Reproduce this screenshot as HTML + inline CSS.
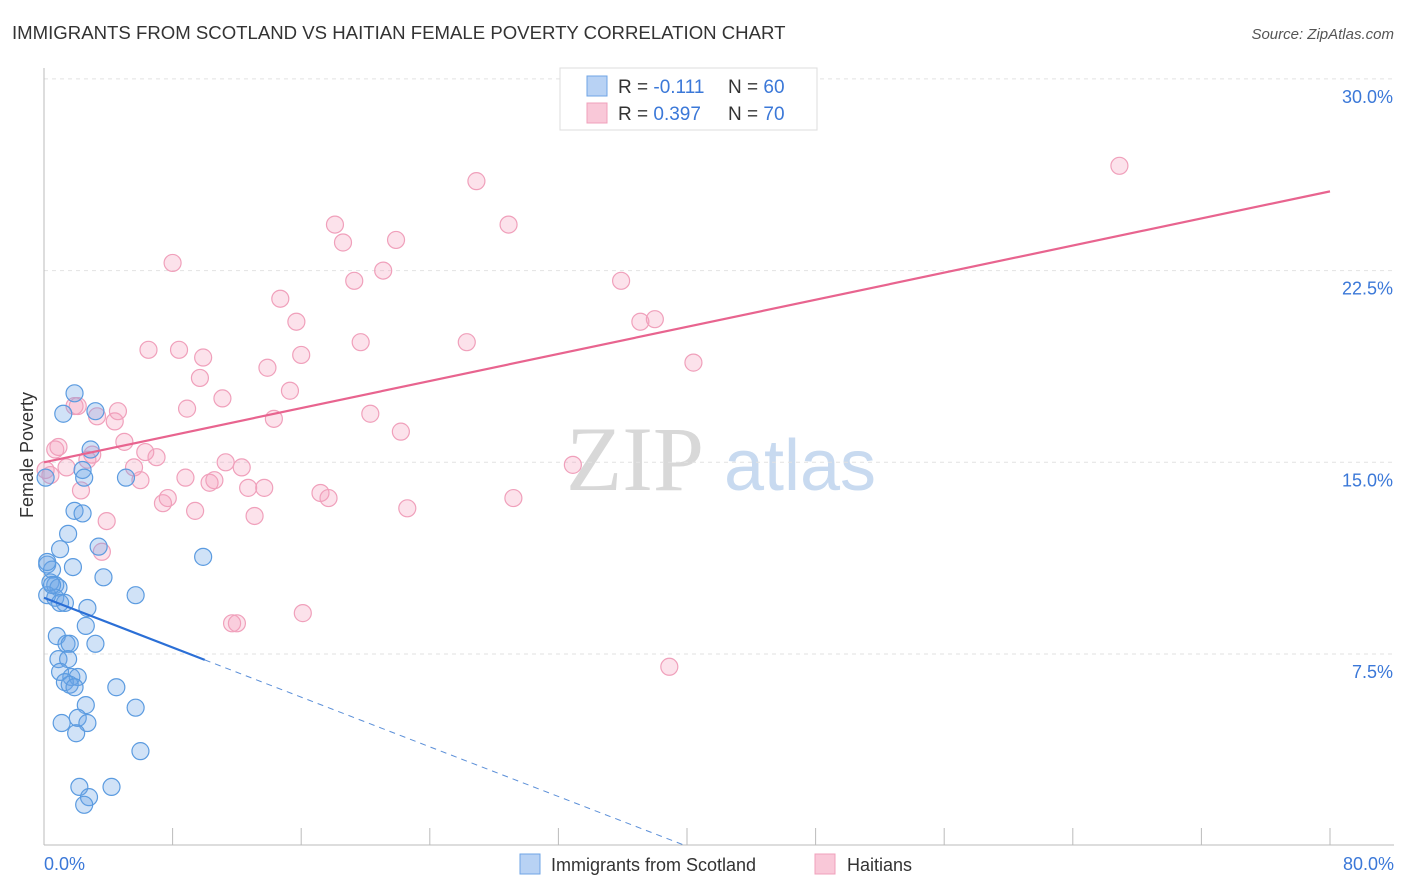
<!DOCTYPE html>
<html><head><meta charset="utf-8"><style>
body{margin:0;background:#fff;font-family:"Liberation Sans",sans-serif}
svg{display:block}
</style></head><body>
<svg id="chart" width="1406" height="892" xmlns="http://www.w3.org/2000/svg">
<text x="12" y="39" font-size="18.6" fill="#333">IMMIGRANTS FROM SCOTLAND VS HAITIAN FEMALE POVERTY CORRELATION CHART</text>
<text x="1394" y="39" font-size="15" fill="#555" font-style="italic" text-anchor="end">Source: ZipAtlas.com</text>
<text x="33" y="455" font-size="18" fill="#333" text-anchor="middle" transform="rotate(-90 33 455)">Female Poverty</text>
<g><text x="635" y="490" font-size="92" fill="#d8d8d8" font-family="Liberation Serif,serif" text-anchor="middle">ZIP</text><text x="800" y="490" font-size="72" fill="#c8daf0" text-anchor="middle">atlas</text></g>
<g id="grid"></g><g id="axes"></g><g id="marks"></g>
<g>
<rect x="560" y="68" width="257" height="62" fill="#fff" stroke="#ddd"/>
<rect x="587" y="76" width="20" height="20" fill="#b8d2f4" stroke="#6fa4e6"/>
<rect x="587" y="103" width="20" height="20" fill="#f9c8d8" stroke="#f0a0bb"/>
<text x="618" y="93" font-size="19" fill="#333">R = <tspan fill="#3b78d8">-0.111</tspan></text>
<text x="728" y="93" font-size="19" fill="#333">N = <tspan fill="#3b78d8">60</tspan></text>
<text x="618" y="120" font-size="19" fill="#333">R = <tspan fill="#3b78d8">0.397</tspan></text>
<text x="728" y="120" font-size="19" fill="#333">N = <tspan fill="#3b78d8">70</tspan></text>
</g>
<g>
<rect x="520" y="854" width="20" height="20" fill="#b8d2f4" stroke="#6fa4e6"/>
<text x="551" y="871" font-size="18" fill="#333">Immigrants from Scotland</text>
<rect x="815" y="854" width="20" height="20" fill="#f9c8d8" stroke="#f0a0bb"/>
<text x="847" y="871" font-size="18" fill="#333">Haitians</text>
</g>
</svg>
<script>
const yTicks=[7.5,15,22.5,30];
const yTickLabels=["7.5%","15.0%","22.5%","30.0%"];
const xTickCount=10;
const blueX=[0.1,1.9,1.2,3.2,2.9,2.4,2.5,5.1,1.9,2.4,1.5,3.4,1.0,9.9,1.8,0.2,0.5,3.7,0.4,0.7,0.9,0.2,0.7,1.3,1.0,5.7,2.7,2.6,0.8,1.4,3.2,1.6,0.9,1.5,1.0,1.7,2.1,1.3,1.6,1.9,4.5,2.6,5.7,1.1,2.1,2.7,2.0,6.0,2.2,4.2,2.8,2.5,0.2,0.5];
const blueY=[14.4,17.7,16.9,17.0,15.5,14.7,14.4,14.4,13.1,13.0,12.2,11.7,11.6,11.3,10.9,11.0,10.8,10.5,10.3,10.2,10.1,9.8,9.7,9.5,9.5,9.8,9.3,8.6,8.2,7.9,7.9,7.9,7.3,7.3,6.8,6.6,6.6,6.4,6.3,6.2,6.2,5.5,5.4,4.8,5.0,4.8,4.4,3.7,2.3,2.3,1.9,1.6,11.1,10.2];
const pinkX=[0.1,0.7,0.9,1.4,0.4,1.9,2.1,2.3,2.7,3.0,3.3,3.9,3.6,4.4,4.6,5.0,5.6,6.0,6.3,7.0,6.5,7.4,7.7,8.0,8.4,8.8,8.9,9.4,9.7,9.9,10.3,10.6,11.1,11.3,11.7,12.0,12.3,12.7,13.1,13.7,13.9,14.3,14.7,15.3,15.7,16.0,16.1,17.2,17.7,18.1,18.6,19.3,19.7,20.3,21.1,21.9,22.2,22.6,26.3,26.9,28.9,29.2,32.9,35.9,37.1,38.0,38.9,40.4,66.9];
const pinkY=[14.7,15.5,15.6,14.8,14.5,17.2,17.2,13.9,15.1,15.3,16.8,12.7,11.5,16.6,17.0,15.8,14.8,14.3,15.4,15.2,19.4,13.4,13.6,22.8,19.4,14.4,17.1,13.1,18.3,19.1,14.2,14.3,17.5,15.0,8.7,8.7,14.8,14.0,12.9,14.0,18.7,16.7,21.4,17.8,20.5,19.2,9.1,13.8,13.6,24.3,23.6,22.1,19.7,16.9,22.5,23.7,16.2,13.2,19.7,26.0,24.3,13.6,14.9,22.1,20.5,20.6,7.0,18.9,26.6];
const blueTrend=[9.7,-0.243];
const pinkTrend=[15.0,0.1325];
const NS="http://www.w3.org/2000/svg";
const xs=v=>44+v*16.075, ys=v=>845.7-v*25.56;
function mk(t,a,p){const e=document.createElementNS(NS,t);for(const k in a)e.setAttribute(k,a[k]);p.appendChild(e);return e;}
const grid=document.getElementById('grid'),axes=document.getElementById('axes'),marks=document.getElementById('marks');
yTicks.forEach((t,i)=>{
 const l=mk('line',{x1:44,x2:1394,y1:ys(t),y2:ys(t),stroke:'#e2e2e2','stroke-dasharray':'4 4'},grid);
 
 
 const tx=mk('text',{x:1393,y:ys(t)+24,'font-size':18,fill:'#3b78d8','text-anchor':'end'},grid);
 tx.textContent=yTickLabels[i];
 
 
});
const ax=mk('line',{x1:44,x2:1394,y1:845,y2:845,stroke:'#bbb'},axes);


const ay=mk('line',{x1:44,x2:44,y1:68,y2:845,stroke:'#bbb'},axes);


for(let i=0;i<=xTickCount;i++){const v=i*8;
 const t=mk('line',{x1:xs(v),x2:xs(v),y1:828,y2:845,stroke:'#bbb'},axes);
 
 }
const xl0=mk('text',{x:44,y:870,'font-size':18,fill:'#3b78d8'},axes);xl0.textContent='0.0%';


const xl1=mk('text',{x:1394,y:870,'font-size':18,fill:'#3b78d8','text-anchor':'end'},axes);xl1.textContent='80.0%';


pinkX.forEach((x,i)=>{const c=mk('circle',{cx:xs(x),cy:ys(pinkY[i]),r:8.5,fill:'rgba(244,160,190,0.3)',stroke:'#f0a0bb','stroke-width':1.2},marks);
 
 });
blueX.forEach((x,i)=>{const c=mk('circle',{cx:xs(x),cy:ys(blueY[i]),r:8.5,fill:'rgba(110,165,230,0.32)',stroke:'#5b9be0','stroke-width':1.2},marks);
 
 });
const pl=mk('line',{x1:xs(0),y1:ys(pinkTrend[0]),x2:xs(80),y2:ys(pinkTrend[0]+pinkTrend[1]*80),stroke:'#e8648f','stroke-width':2.2},marks);


const bl=mk('line',{x1:xs(0),y1:ys(blueTrend[0]),x2:xs(10),y2:ys(blueTrend[0]+blueTrend[1]*10),stroke:'#2b6fd6','stroke-width':2.2},marks);


const xEnd=-blueTrend[0]/blueTrend[1];
const bd=mk('line',{x1:xs(10),y1:ys(blueTrend[0]+blueTrend[1]*10),x2:xs(xEnd),y2:ys(0),stroke:'#5b8fd8','stroke-width':1,'stroke-dasharray':'6 5'},marks);


</script>
</body></html>
